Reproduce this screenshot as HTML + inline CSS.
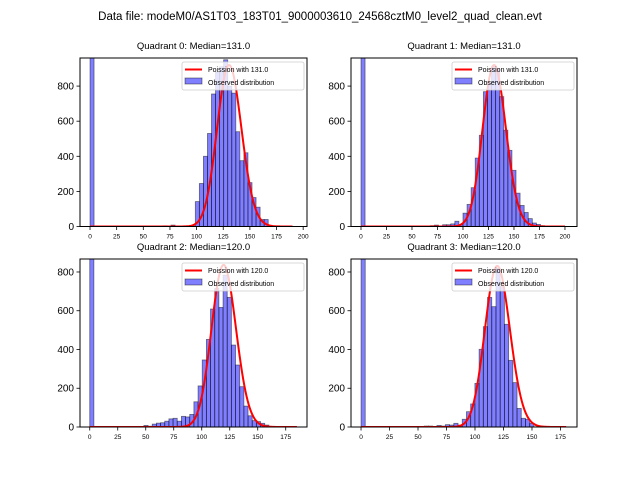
<!DOCTYPE html>
<html><head><meta charset="utf-8"><style>
body{margin:0;background:#fff;}
svg{display:block;font-family:"Liberation Sans","DejaVu Sans",sans-serif;}
</style></head><body>
<svg id="fig" width="640" height="480" viewBox="0 0 640 480" xmlns="http://www.w3.org/2000/svg">
<rect width="640" height="480" fill="#fff"/>
<text x="320" y="20" font-size="11.5" text-anchor="middle">Data file: modeM0/AS1T03_183T01_9000003610_24568cztM0_level2_quad_clean.evt</text>
</svg>
<script>
// ---- data ----
const quadrantNames = ["Quadrant 0: Median=131.0","Quadrant 1: Median=131.0","Quadrant 2: Median=120.0","Quadrant 3: Median=120.0"];
const medians = [131.0, 131.0, 120.0, 120.0];
const binWidths = [3.8, 4.0, 3.72, 3.7];
const firstBins = [0, 0, 0, 0];
const q0Counts = [2000,0,0,0,0,0,0,0,0,0,0,0,0,0,0,0,3,3,4,3,8,3,0,0,0,3,
  142,245,400,530,755,880,910,950,800,760,540,375,420,250,165,110,40,40,5];
const q1Counts = [2000,0,0,0,0,0,0,0,0,0,0,0,0,0,0,0,0,5,8,3,10,10,15,30,10,
  76,126,221,390,520,768,825,910,900,740,549,434,320,190,120,80,45,20,12,5,3];
const q2Counts = [2000,0,0,0,0,0,0,0,0,0,0,0,0,8,4,15,20,22,30,42,45,30,
  55,52,65,130,212,346,452,609,715,617,784,669,423,320,208,108,58,33,28,19,10];
const q3Counts = [2000,0,0,0,0,0,0,0,0,0,0,0,0,0,0,5,5,3,8,5,12,10,
  19,10,40,79,119,225,401,518,669,621,819,724,530,344,229,96,45,40,19];
const allCounts = [q0Counts, q1Counts, q2Counts, q3Counts];
const curveScales = [26400, 26400, 22970, 22830];
const curveEnds = [190, 200, 185, 180];
const yTicks = [0, 200, 400, 600, 800];
const xTicksA = [0, 25, 50, 75, 100, 125, 150, 175, 200];
const xTicksB = [0, 25, 50, 75, 100, 125, 150, 175];
const xTickSets = [xTicksA, xTicksA, xTicksB, xTicksB];

// ---- layout ----
const axesBoxes = [
  {l:80, r:307, t:58, b:226.5, xmin:-9.4, xmax:203.6, ymax:960},
  {l:351, r:577, t:58, b:226.5, xmin:-9.8, xmax:211.8, ymax:960},
  {l:80, r:307, t:259, b:427, xmin:-8.7, xmax:194, ymax:867},
  {l:351, r:577, t:259, b:427, xmin:-8.8, xmax:189.5, ymax:867}
];
const NS = "http://www.w3.org/2000/svg";
const fig = document.getElementById("fig");
function mk(tag, attrs, parent){
  const e = document.createElementNS(NS, tag);
  for (const k in attrs) e.setAttribute(k, attrs[k]);
  (parent||fig).appendChild(e);
  return e;
}
function lgamma(n){ // ln(n!) via Stirling
  if (n < 2) return 0;
  return n*Math.log(n) - n + 0.5*Math.log(2*Math.PI*n) + 1/(12*n) - 1/(360*n*n*n);
}
axesBoxes.forEach((A, q) => {
  const g = mk("g", {});
  
  
  const clipId = "clip" + q;
  const cp = mk("clipPath", {id: clipId}, g);
  mk("rect", {x:A.l, y:A.t, width:A.r-A.l, height:A.b-A.t}, cp);
  const sx = v => A.l + (v - A.xmin) / (A.xmax - A.xmin) * (A.r - A.l);
  const sy = v => A.b - v / A.ymax * (A.b - A.t);
  const plot = mk("g", {"clip-path": "url(#" + clipId + ")"}, g);
  const counts = allCounts[q];
  const bw = binWidths[q];
  counts.forEach((c, i) => {
    if (c <= 0) return;
    const x0 = (firstBins[q] + i) * bw;
    const r = mk("rect", {x: sx(x0), y: sy(c), width: sx(x0 + bw) - sx(x0), height: sy(0) - sy(c),
      fill: "rgba(0,0,255,0.5)", stroke: "rgba(0,0,0,0.5)", "stroke-width": 0.8}, plot);
    
    
  });
  const lam = medians[q];
  let d = "";
  for (let k = 0; k <= curveEnds[q]; k++) {
    const p = Math.exp(k*Math.log(lam) - lam - lgamma(k));
    d += (k ? "L" : "M") + sx(k).toFixed(2) + "," + sy(p * curveScales[q]).toFixed(2);
  }
  const pl = mk("path", {d: d, fill: "none", stroke: "#ff0000", "stroke-width": 2}, plot);
  
  
  const sp = mk("rect", {x:A.l, y:A.t, width:A.r-A.l, height:A.b-A.t, fill:"none", stroke:"#000", "stroke-width":1}, g);
  
  
  yTicks.forEach(v => {
    const y = sy(v);
    mk("line", {x1:A.l-3.5, x2:A.l, y1:y, y2:y, stroke:"#000", "stroke-width":0.8}, g);
    const t = mk("text", {x:A.l-6, y:y+3.5, "font-size":10, "text-anchor":"end"}, g);
    t.textContent = String(v);
    
    
  });
  xTickSets[q].forEach(v => {
    const x = sx(v);
    mk("line", {x1:x, x2:x, y1:A.b, y2:A.b+3.5, stroke:"#000", "stroke-width":0.8}, g);
    const t = mk("text", {x:x, y:A.b+12, "font-size":6.5, "text-anchor":"middle"}, g);
    t.textContent = String(v);
    
    
  });
  const tt = mk("text", {x:(A.l+A.r)/2, y:A.t-9, "font-size":9.5, "text-anchor":"middle"}, g);
  tt.textContent = quadrantNames[q];
  
  
  const lg = mk("g", {}, g);
  
  
  const lx = A.r - 125, ly = A.t + 4;
  mk("rect", {x:lx, y:ly, width:122, height:28, rx:2, fill:"rgba(255,255,255,0.8)", stroke:"#ccc", "stroke-width":0.8}, lg);
  mk("line", {x1:lx+3, x2:lx+20, y1:ly+7.5, y2:ly+7.5, stroke:"#ff0000", "stroke-width":2}, lg);
  const t1 = mk("text", {x:lx+26, y:ly+10, "font-size":7}, lg);
  t1.textContent = "Poission with " + medians[q].toFixed(1);
  
  
  mk("rect", {x:lx+3, y:ly+16, width:17, height:6, fill:"rgba(0,0,255,0.5)", stroke:"rgba(0,0,0,0.5)", "stroke-width":0.8}, lg);
  const t2 = mk("text", {x:lx+26, y:ly+23, "font-size":7}, lg);
  t2.textContent = "Observed distribution";
  
  
});
</script>
</body></html>
